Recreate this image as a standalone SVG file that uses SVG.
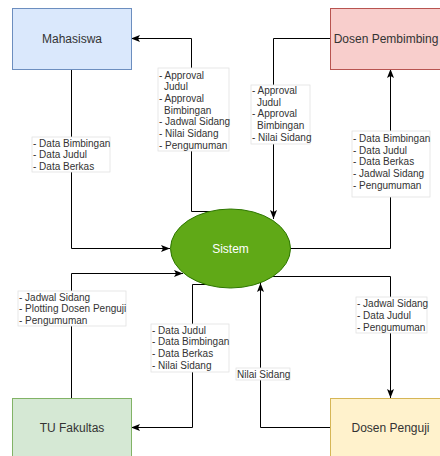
<svg xmlns="http://www.w3.org/2000/svg" width="440" height="456" viewBox="0 0 440 456">
<defs>
<style>
.conn{fill:none;stroke:#000;stroke-width:1}
.lbl rect{fill:#fff;stroke:#e2e2e2;stroke-width:0.8}
.lbl text{font-family:"Liberation Sans",Arial,sans-serif;font-size:10px;fill:#333}
.node text{font-family:"Liberation Sans",Arial,sans-serif;font-size:12px;fill:#333;text-anchor:middle;dominant-baseline:central}
</style>
<marker id="arr" markerUnits="userSpaceOnUse" markerWidth="10" markerHeight="10" viewBox="0 0 10 10" refX="9" refY="5" orient="auto">
<path d="M0,1.5 L9,5 L0,8.5 L2,5 Z" fill="#000"/>
</marker>
</defs>
<rect width="440" height="456" fill="#fff"/>
<g id="connectors">
<path class="conn" d="M71.5,69 V248.5 H170" marker-end="url(#arr)"/>
<path class="conn" d="M210,211.5 H191.5 V38.5 H131" marker-end="url(#arr)"/>
<path class="conn" d="M330,38.5 H273.5 V219" marker-end="url(#arr)"/>
<path class="conn" d="M280,248.5 H390.5 V69" marker-end="url(#arr)"/>
<path class="conn" d="M71.5,398 V273.5 H183" marker-end="url(#arr)"/>
<path class="conn" d="M210,284.5 H192.5 V427.5 H131" marker-end="url(#arr)"/>
<path class="conn" d="M270,276.5 H390.5 V398" marker-end="url(#arr)"/>
<path class="conn" d="M330,427.5 H260.5 V283" marker-end="url(#arr)"/>
<g class="lbl">
<rect x="32" y="137" width="78" height="35"/>
<text x="33"><tspan x="33" y="146.5">- Data Bimbingan</tspan><tspan x="33" y="158.2">- Data Judul</tspan><tspan x="33" y="169.9">- Data Berkas</tspan></text>
<rect x="158" y="68" width="71" height="83"/>
<text><tspan x="159" y="78.5">- Approval</tspan><tspan x="164" y="90.2">Judul</tspan><tspan x="159" y="101.9">- Approval</tspan><tspan x="164" y="113.6">Bimbingan</tspan><tspan x="159" y="125.3">- Jadwal Sidang</tspan><tspan x="159" y="137">- Nilai Sidang</tspan><tspan x="159" y="148.7">- Pengumuman</tspan></text>
<rect x="251" y="85" width="59" height="59"/>
<text><tspan x="252" y="94">- Approval</tspan><tspan x="257" y="105.7">Judul</tspan><tspan x="252" y="117.4">- Approval</tspan><tspan x="257" y="129.1">Bimbingan</tspan><tspan x="252" y="140.8">- Nilai Sidang</tspan></text>
<rect x="352" y="131" width="78" height="66"/>
<text><tspan x="353" y="141.8">- Data Bimbingan</tspan><tspan x="353" y="153.5">- Data Judul</tspan><tspan x="353" y="165.2">- Data Berkas</tspan><tspan x="353" y="176.9">- Jadwal Sidang</tspan><tspan x="353" y="188.6">- Pengumuman</tspan></text>
<rect x="18" y="291" width="108" height="35"/>
<text><tspan x="19" y="300.5">- Jadwal Sidang</tspan><tspan x="19" y="312.2">- Plotting Dosen Penguji</tspan><tspan x="19" y="323.9">- Pengumuman</tspan></text>
<rect x="151" y="324" width="78" height="48"/>
<text><tspan x="152" y="333.5">- Data Judul</tspan><tspan x="152" y="345.2">- Data Bimbingan</tspan><tspan x="152" y="356.9">- Data Berkas</tspan><tspan x="152" y="368.6">- Nilai Sidang</tspan></text>
<rect x="356" y="297" width="71" height="36"/>
<text><tspan x="357" y="307.2">- Jadwal Sidang</tspan><tspan x="357" y="318.9">- Data Judul</tspan><tspan x="357" y="330.6">- Pengumuman</tspan></text>
<rect x="236" y="368" width="54" height="12"/>
<text><tspan x="237" y="377.5">Nilai Sidang</tspan></text>
</g>
</g>
<g id="mahasiswa" class="node">
<rect x="12.5" y="8.5" width="119" height="61" fill="#dae8fc" stroke="#6c8ebf"/>
<text x="72" y="39">Mahasiswa</text>
</g>
<g id="dosen-pembimbing" class="node">
<rect x="330.5" y="8.5" width="120" height="61" fill="#f8cecc" stroke="#b85450"/>
<text x="386" y="39">Dosen Pembimbing</text>
</g>
<g id="tu-fakultas" class="node">
<rect x="12.5" y="398.5" width="119" height="61" fill="#d5e8d4" stroke="#82b366"/>
<text x="72" y="428">TU Fakultas</text>
</g>
<g id="dosen-penguji" class="node">
<rect x="330.5" y="398.5" width="120" height="61" fill="#fff2cc" stroke="#d6b656"/>
<text x="390.5" y="428">Dosen Penguji</text>
</g>
<g id="sistem" class="node">
<ellipse cx="230.5" cy="248.5" rx="60" ry="39.5" fill="#60a917" stroke="#2d7600"/>
<text x="230.5" y="248.5" style="fill:#fff">Sistem</text>
</g>
</svg>
